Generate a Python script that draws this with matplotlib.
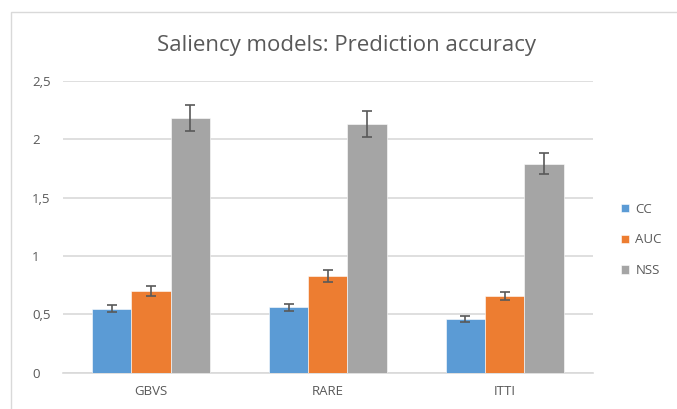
import numpy as np
import matplotlib.pyplot as plt
from matplotlib.patches import Rectangle

models = ["GBVS", "RARE", "ITTI"]
metrics = ["CC", "AUC", "NSS"]
cc = [0.55, 0.56, 0.46]
auc = [0.70, 0.83, 0.66]
nss = [2.18, 2.13, 1.79]
cc_err = [0.03, 0.03, 0.025]
auc_err = [0.04, 0.05, 0.035]
nss_err = [0.11, 0.11, 0.09]
yticks = [0, 0.5, 1, 1.5, 2, 2.5]
ytick_labels = ["0", "0,5", "1", "1,5", "2", "2,5"]

colors = ["#5B9BD5", "#ED7D31", "#A5A5A5"]
text_col = "#595959"
grid_col = "#D9D9D9"

plt.rcParams['font.family'] = ['Open Sans', 'DejaVu Sans']

fig = plt.figure(figsize=(6.77, 4.09), dpi=100)
# chart border
fig.patches.append(Rectangle((11 / 677, -0.1), 1.2, 1 - 12 / 409 + 0.1,
                             transform=fig.transFigure, fill=False,
                             edgecolor=grid_col, linewidth=1))
ax = fig.add_axes([0.0926, 0.0888, 0.7834, 0.7132])

x = np.arange(len(models))
w = 0.222
series = [(cc, cc_err), (auc, auc_err), (nss, nss_err)]
for i, (vals, errs) in enumerate(series):
    ax.bar(x + (i - 1) * w, vals, w, color=colors[i], label=metrics[i],
           edgecolor="white", linewidth=0.4, zorder=3,
           yerr=errs, error_kw=dict(ecolor=text_col, elinewidth=1.2,
                                    capsize=3.5, capthick=1.2, zorder=4))

ax.set_xlim(-0.5, 2.5)
ax.set_ylim(0, 2.5)
ax.set_yticks(yticks)
ax.set_yticklabels(ytick_labels)
ax.set_xticks(x)
ax.set_xticklabels(models)
ax.tick_params(length=0, colors=text_col, labelsize=9.5)
ax.tick_params(axis='y', pad=22)
ax.tick_params(axis='x', pad=9)
for lbl in ax.get_yticklabels():
    lbl.set_horizontalalignment('left')
ax.yaxis.grid(True, color=grid_col, linewidth=1.2, zorder=0)
ax.set_axisbelow(True)
for s in ["top", "right", "left"]:
    ax.spines[s].set_visible(False)
ax.spines["bottom"].set_color(grid_col)
ax.spines["bottom"].set_linewidth(1.2)

fig.text(0.512, 0.888, "Saliency models: Prediction accuracy", ha="center",
         va="center", fontsize=16, color=text_col)

leg = ax.legend(loc="center left", bbox_to_anchor=(1.03, 0.455), frameon=False,
                fontsize=9.5, handlelength=0.6, handleheight=0.6,
                handletextpad=0.5, labelspacing=1.35)
for t in leg.get_texts():
    t.set_color(text_col)

fig.savefig("out.png", dpi=100)
